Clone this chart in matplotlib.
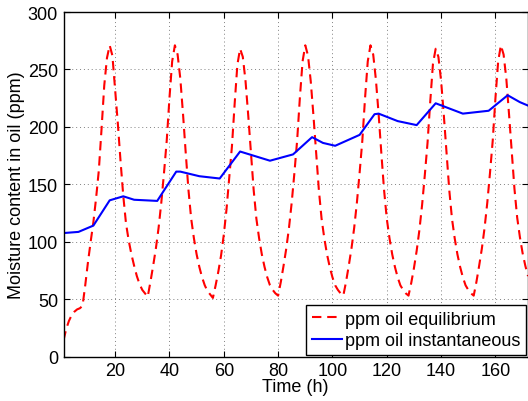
import matplotlib
matplotlib.use("Agg")
import matplotlib.pyplot as plt

plt.rcParams.update({
    "font.family": ["Liberation Sans", "DejaVu Sans"],
    "font.size": 13,
    "xtick.direction": "in",
    "ytick.direction": "in",
    "xtick.top": True,
    "ytick.right": True,
})

# hourly equilibrium moisture, hours 1..172
hours = list(range(1, 173))
ppm_equilibrium = [
    14, 24, 31, 36, 39, 41, 42, 44, 62, 82, 100, 117, 138, 162, 198, 236,
    260, 271, 262, 232, 203, 170, 140, 116, 101, 89, 79, 70, 63, 58, 55,
    52, 65, 79, 94, 112, 134, 160, 188, 225, 257, 271, 263, 242, 211, 177,
    145, 120, 103, 89, 78, 69, 62, 57, 54,
    51, 62, 74, 88, 106, 128, 155, 183, 220, 254, 268, 261, 240, 210, 177,
    145, 120, 103, 89, 78, 69, 62, 58, 55,
    53, 65, 79, 94, 112, 134, 160, 188, 225, 257, 271, 262, 240, 210, 177,
    145, 120, 103, 89, 78, 69, 62, 58, 55,
    53, 65, 79, 94, 112, 134, 160, 188, 225, 257, 271, 263, 241, 211, 177,
    145, 120, 103, 89, 78, 69, 62, 58, 55,
    53, 64, 77, 92, 110, 132, 158, 186, 222, 255, 268, 261, 240, 210, 177,
    145, 120, 103, 89, 78, 69, 62, 58, 55,
    53, 65, 79, 94, 112, 134, 160, 188, 225, 257, 271, 263, 242, 211, 178,
    146, 121, 104, 90, 79, 70,
]

# instantaneous moisture (break points)
t_inst = [1, 6.5, 12, 18, 23, 27, 35.5, 42.5, 44, 51, 58.5, 66, 77, 85.5,
          92.5, 96.5, 101, 110, 115.5, 117, 124, 131, 138, 148, 157.5,
          164.5, 169, 172]
ppm_instantaneous = [107.5, 108.5, 114, 136, 139.5, 136.5, 135.5, 161, 161,
                     157, 155, 178.5, 170.5, 176, 191, 186, 183.5, 193, 211,
                     211.5, 205, 201.5, 220.5, 211.5, 214, 227.5, 221.5, 218.5]

fig = plt.figure(figsize=(5.28, 4.02), dpi=100)
ax = fig.add_axes([63.5 / 528, 1 - 357.5 / 402, 464 / 528, 344.5 / 402])

ax.plot(hours, ppm_equilibrium, color="#ff0000", lw=1.5, ls=(0, (4.5, 2.8)),
        label="ppm oil equilibrium")
ax.plot(t_inst, ppm_instantaneous, "-", color="#0000ff", lw=1.5,
        label="ppm oil instantaneous")

ax.set_xlim(1, 171.8)
ax.set_ylim(0, 300)
ax.set_xticks(range(20, 161, 20))
ax.set_yticks(range(0, 301, 50))
ax.grid(True, color="#808080", ls=(0, (1, 3)), lw=0.7)
ax.tick_params(length=4, width=0.8, labelsize=13, pad=4)
for s in ax.spines.values():
    s.set_linewidth(1.0)

ax.set_xlabel("Time (h)", fontsize=13, labelpad=-1)
ax.set_ylabel("Moisture content in oil (ppm)", fontsize=13, labelpad=2)

leg = ax.legend(loc="lower right", fontsize=13, fancybox=False,
                framealpha=1, edgecolor="black", borderaxespad=0.1,
                handlelength=1.7, handletextpad=0.15, borderpad=0.3,
                labelspacing=0.25)
leg.get_frame().set_linewidth(1.0)

fig.savefig("out.png", dpi=100)
